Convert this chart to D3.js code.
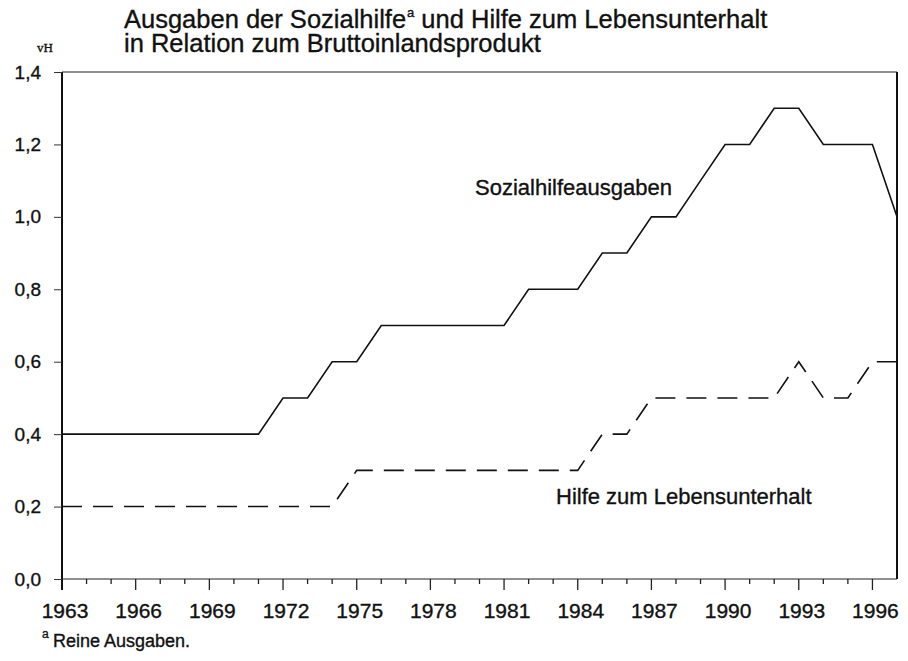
<!DOCTYPE html>
<html>
<head>
<meta charset="utf-8">
<script src="https://cdn.jsdelivr.net/npm/d3@7"></script>
<style>
  body { margin: 0; background: #fff; }
  svg text { font-family: "Liberation Sans", Arial, sans-serif; fill: #111; stroke: #111; stroke-width: 0.35px; }
</style>
</head>
<body>
<div id="chart"></div>
<script>
(function () {
  "use strict";

  /***** Données *****/
  var years = d3.range(1963, 1998);
  // Ausgaben der Sozialhilfe in vH des BIP
  var sozialhilfe = [0.4, 0.4, 0.4, 0.4, 0.4, 0.4, 0.4, 0.4, 0.4, 0.5,
                     0.5, 0.6, 0.6, 0.7, 0.7, 0.7, 0.7, 0.7, 0.7, 0.8,
                     0.8, 0.8, 0.9, 0.9, 1.0, 1.0, 1.1, 1.2, 1.2, 1.3,
                     1.3, 1.2, 1.2, 1.2, 1.0];
  // Hilfe zum Lebensunterhalt in vH des BIP
  var hilfeLU = [0.2, 0.2, 0.2, 0.2, 0.2, 0.2, 0.2, 0.2, 0.2, 0.2,
                 0.2, 0.2, 0.3, 0.3, 0.3, 0.3, 0.3, 0.3, 0.3, 0.3,
                 0.3, 0.3, 0.4, 0.4, 0.5, 0.5, 0.5, 0.5, 0.5, 0.5,
                 0.6, 0.5, 0.5, 0.6, 0.6];
  var xTickYears = d3.range(1963, 1997, 3);
  var yTicks = [0, 0.2, 0.4, 0.6, 0.8, 1.0, 1.2, 1.4];

  /***** Configuration *****/
  var width = 908, height = 661;
  var margin = {top: 72, right: 11, bottom: 82, left: 62};

  var svg = d3.select("#chart").append("svg")
    .attr("width", width)
    .attr("height", height);

  var x = d3.scaleLinear().domain([1963, 1997]).range([margin.left, width - margin.right]);
  var y = d3.scaleLinear().domain([0, 1.4]).range([height - margin.bottom, margin.top]);

  var fmt = function (d) { return d3.format(".1f")(d).replace(".", ","); };

  // Titel (Hochzeichen als eigenes Textelement)
  var t1 = svg.append("text")
    .attr("x", 124).attr("y", 28)
    .style("font-size", "25.5px")
    .text("Ausgaben der Sozialhilfe");
  var xa = 124 + t1.node().getComputedTextLength() + 1;
  var sup = svg.append("text")
    .attr("x", xa).attr("y", 17)
    .style("font-size", "13px")
    .text("a");
  svg.append("text")
    .attr("x", xa + sup.node().getComputedTextLength() + 1).attr("y", 28)
    .style("font-size", "25.5px")
    .text("und Hilfe zum Lebensunterhalt")
    .attr("dx", 6);
  svg.append("text")
    .attr("x", 124).attr("y", 52)
    .style("font-size", "25.5px")
    .text("in Relation zum Bruttoinlandsprodukt");

  svg.append("text")
    .attr("x", 37).attr("y", 52)
    .style("font-family", "'Liberation Serif', serif")
    .style("font-size", "13px")
    .text("vH");

  // Rahmen
  svg.append("line")
    .attr("x1", x(1963)).attr("x2", x(1997))
    .attr("y1", y(1.4)).attr("y2", y(1.4))
    .attr("stroke", "#222").attr("stroke-width", 1.2);
  svg.append("line")
    .attr("x1", x(1997)).attr("x2", x(1997))
    .attr("y1", y(1.4)).attr("y2", y(0))
    .attr("stroke", "#111").attr("stroke-width", 2);

  // Y-Achse
  var yAxis = svg.append("g")
    .attr("transform", "translate(" + x(1963) + ",0)")
    .call(d3.axisLeft(y).tickValues(yTicks).tickFormat(fmt).tickSize(8).tickSizeOuter(0));
  yAxis.select(".domain").attr("stroke", "#111").attr("stroke-width", 2)
    .attr("d", "M0," + y(1.4) + "V" + (y(0) + 11));
  yAxis.selectAll(".tick line").attr("stroke", "#333").attr("stroke-width", 1);
  yAxis.selectAll(".tick text")
    .attr("x", -21)
    .attr("fill", "#111")
    .style("font-size", "19px")
    .style("font-family", "'Liberation Sans', Arial, sans-serif");

  // X-Achse
  var xAxis = svg.append("g")
    .attr("transform", "translate(0," + y(0) + ")");
  xAxis.append("line")
    .attr("x1", x(1963)).attr("x2", x(1997))
    .attr("stroke", "#222").attr("stroke-width", 1.2);
  xAxis.selectAll(".minor").data(years.slice(1, -1)).enter().append("line")
    .attr("x1", function (d) { return x(d); })
    .attr("x2", function (d) { return x(d); })
    .attr("y1", 0)
    .attr("y2", function (d) { return (d - 1963) % 3 === 0 ? 11 : 5; })
    .attr("stroke", "#222").attr("stroke-width", 1.3);
  xAxis.selectAll(".lbl").data(xTickYears).enter().append("text")
    .attr("x", function (d) { return x(d) + 3; })
    .attr("y", 39)
    .attr("text-anchor", "middle")
    .style("font-size", "21px")
    .text(function (d) { return d; });

  // Linien
  var line = d3.line()
    .x(function (d, i) { return x(years[i]); })
    .y(function (d) { return y(d); });

  svg.append("path")
    .datum(sozialhilfe)
    .attr("d", line)
    .attr("fill", "none")
    .attr("stroke", "#111")
    .attr("stroke-width", 1.6);

  svg.append("path")
    .datum(hilfeLU)
    .attr("d", line)
    .attr("fill", "none")
    .attr("stroke", "#111")
    .attr("stroke-width", 1.6)
    .attr("stroke-dasharray", "20,11");

  // Beschriftungen
  svg.append("text")
    .attr("x", 475).attr("y", 195)
    .style("font-size", "22px")
    .text("Sozialhilfeausgaben");
  svg.append("text")
    .attr("x", 556).attr("y", 504)
    .style("font-size", "22px")
    .text("Hilfe zum Lebensunterhalt");

  // Fußnote
  svg.append("text")
    .attr("x", 42).attr("y", 638)
    .style("font-size", "12px")
    .text("a");
  svg.append("text")
    .attr("x", 53).attr("y", 647)
    .style("font-size", "18px")
    .text("Reine Ausgaben.");
})();
</script>
</body>
</html>
